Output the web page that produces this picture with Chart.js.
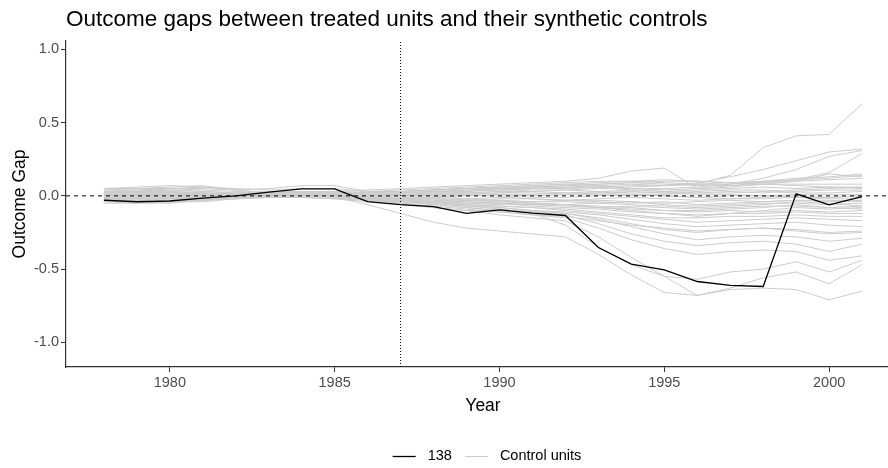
<!DOCTYPE html>
<html>
<head>
<meta charset="utf-8">
<script src="https://cdn.jsdelivr.net/npm/chart.js@4"></script>
<style>
  html, body { margin: 0; padding: 0; background: #fff; overflow: hidden; }
  #wrap { width: 900px; height: 468px; }
</style>
</head>
<body>
<div id="wrap"><canvas id="gaps_chart"></canvas></div>
<script>
const years = [1978, 1979, 1980, 1981, 1982, 1983, 1984, 1985, 1986, 1987, 1988, 1989,
               1990, 1991, 1992, 1993, 1994, 1995, 1996, 1997, 1998, 1999, 2000, 2001];
const treatment_year = 1987;
const x_ticks = [1980, 1985, 1990, 1995, 2000];
const y_ticks = [-1.0, -0.5, 0.0, 0.5, 1.0];

const treated_label = "138";
const control_label = "Control units";

// gap for the treated unit
const treated_gap = [-0.03, -0.04, -0.035, -0.016, 0.0, 0.025, 0.048, 0.048, -0.039,
                     -0.06, -0.073, -0.12, -0.095, -0.118, -0.134, -0.353, -0.466, -0.505,
                     -0.585, -0.612, -0.619, 0.014, -0.061, -0.005];

// placebo gaps, one per control unit
const c01 = [0.02, 0.03, 0.03, 0.02, 0.01, 0.01, 0.02, 0.02, 0.03, 0.03, 0.04, 0.05, 0.05, 0.06, 0.06, 0.07, 0.08, 0.07, 0.08, 0.14, 0.33, 0.41, 0.42, 0.63];
const c02 = [0.01, 0.01, 0.02, 0.02, 0.01, 0.00, 0.00, 0.01, 0.02, 0.02, 0.03, 0.03, 0.04, 0.05, 0.05, 0.06, 0.06, 0.07, 0.09, 0.13, 0.18, 0.24, 0.30, 0.32];
const c03 = [-0.01, 0.00, 0.00, 0.01, 0.01, 0.00, 0.00, 0.00, 0.01, 0.01, 0.02, 0.02, 0.03, 0.04, 0.04, 0.05, 0.05, 0.05, 0.06, 0.08, 0.12, 0.18, 0.27, 0.31];
const c04 = [0.03, 0.03, 0.04, 0.03, 0.02, 0.02, 0.03, 0.03, 0.04, 0.05, 0.06, 0.07, 0.08, 0.09, 0.10, 0.12, 0.17, 0.19, 0.05, 0.07, 0.09, 0.11, 0.16, 0.29];
const c05 = [0.05, 0.05, 0.06, 0.07, 0.04, 0.02, 0.01, 0.00, 0.02, 0.03, 0.04, 0.05, 0.06, 0.06, 0.07, 0.08, 0.09, 0.08, 0.07, 0.08, 0.10, 0.12, 0.13, 0.15];
const c06 = [0.04, 0.05, 0.05, 0.04, 0.03, 0.02, 0.02, 0.01, 0.01, 0.02, 0.03, 0.04, 0.05, 0.05, 0.06, 0.06, 0.07, 0.07, 0.08, 0.09, 0.10, 0.11, 0.12, 0.14];
const c07 = [-0.02, -0.01, 0.00, 0.01, 0.02, 0.03, 0.03, 0.02, 0.01, 0.00, 0.01, 0.03, 0.05, 0.06, 0.07, 0.08, 0.09, 0.10, 0.10, 0.09, 0.09, 0.10, 0.11, 0.12];
const c08 = [0.01, 0.02, 0.02, 0.01, 0.00, 0.00, 0.01, 0.01, 0.00, 0.02, 0.04, 0.05, 0.06, 0.07, 0.08, 0.09, 0.10, 0.09, 0.08, 0.07, 0.08, 0.08, 0.08, 0.08];
const c09 = [0.03, 0.04, 0.04, 0.03, 0.02, 0.01, 0.03, 0.03, 0.01, 0.02, 0.03, 0.04, 0.04, 0.05, 0.05, 0.06, 0.04, 0.03, 0.04, 0.05, 0.06, 0.05, 0.06, 0.06];
const c10 = [0.00, 0.01, 0.01, 0.00, -0.01, 0.00, 0.01, 0.02, 0.01, 0.01, 0.02, 0.02, 0.03, 0.03, 0.04, 0.03, 0.02, 0.02, 0.03, 0.04, 0.04, 0.03, 0.04, 0.04];
const c11 = [-0.03, -0.03, -0.02, -0.02, -0.01, 0.00, 0.00, 0.01, 0.00, 0.00, 0.01, 0.01, 0.02, 0.02, 0.01, 0.01, 0.00, 0.01, 0.02, 0.02, 0.03, 0.02, 0.02, 0.03];
const c12 = [0.02, 0.02, 0.01, 0.01, 0.01, 0.02, 0.03, 0.03, 0.02, 0.01, 0.00, 0.00, 0.01, 0.01, 0.02, 0.02, 0.03, 0.02, 0.01, 0.01, 0.00, 0.01, 0.01, 0.01];
const c13 = [0.01, 0.00, -0.01, -0.01, 0.00, 0.01, 0.02, 0.02, 0.00, -0.01, -0.01, 0.00, 0.00, -0.01, -0.01, 0.00, 0.01, 0.00, -0.01, 0.00, 0.00, -0.01, -0.01, 0.00];
const c14 = [-0.01, -0.02, -0.02, -0.01, 0.00, 0.00, 0.00, -0.01, -0.02, -0.02, -0.02, -0.03, -0.02, -0.02, -0.03, -0.02, -0.01, -0.02, -0.03, -0.02, -0.02, -0.01, -0.02, -0.02];
const c15 = [0.02, 0.03, 0.02, 0.01, 0.00, -0.01, -0.01, 0.00, -0.01, -0.02, -0.03, -0.03, -0.04, -0.04, -0.03, -0.03, -0.04, -0.05, -0.04, -0.03, -0.04, -0.03, -0.03, -0.04];
const c16 = [-0.04, -0.05, -0.05, -0.03, -0.01, 0.00, 0.00, -0.01, -0.03, -0.03, -0.04, -0.04, -0.05, -0.05, -0.06, -0.05, -0.04, -0.06, -0.07, -0.06, -0.05, -0.05, -0.06, -0.05];
const c17 = [0.01, 0.01, 0.00, 0.00, 0.01, 0.01, 0.00, -0.01, -0.02, -0.03, -0.04, -0.05, -0.06, -0.06, -0.07, -0.08, -0.07, -0.08, -0.09, -0.08, -0.07, -0.07, -0.08, -0.07];
const c18 = [-0.02, -0.03, -0.04, -0.03, -0.01, 0.00, 0.01, 0.00, -0.02, -0.03, -0.04, -0.05, -0.05, -0.06, -0.06, -0.08, -0.09, -0.10, -0.10, -0.09, -0.08, -0.06, -0.08, -0.09];
const c19 = [0.03, 0.03, 0.03, 0.02, 0.01, 0.01, 0.02, 0.02, 0.00, -0.01, -0.02, -0.03, -0.04, -0.05, -0.06, -0.07, -0.08, -0.10, -0.11, -0.10, -0.11, -0.10, -0.11, -0.10];
const c20 = [0.00, -0.01, -0.01, 0.00, 0.00, 0.01, 0.02, 0.01, -0.01, -0.02, -0.03, -0.04, -0.05, -0.07, -0.08, -0.09, -0.11, -0.12, -0.13, -0.12, -0.12, -0.11, -0.12, -0.12];
const c21 = [-0.01, -0.02, -0.03, -0.02, -0.01, 0.00, -0.01, -0.02, -0.03, -0.04, -0.05, -0.06, -0.07, -0.08, -0.09, -0.11, -0.13, -0.15, -0.15, -0.14, -0.14, -0.13, -0.14, -0.14];
const c22 = [0.02, 0.02, 0.02, 0.01, 0.00, 0.00, 0.01, 0.00, -0.02, -0.03, -0.05, -0.06, -0.07, -0.08, -0.10, -0.12, -0.14, -0.16, -0.18, -0.17, -0.16, -0.15, -0.16, -0.17];
const c23 = [0.01, 0.01, 0.00, -0.01, -0.01, 0.00, 0.01, 0.01, -0.01, -0.03, -0.05, -0.07, -0.08, -0.10, -0.11, -0.13, -0.16, -0.19, -0.21, -0.20, -0.19, -0.18, -0.20, -0.21];
const c24 = [-0.03, -0.03, -0.02, -0.02, -0.01, 0.00, 0.00, 0.00, -0.02, -0.04, -0.06, -0.08, -0.10, -0.11, -0.12, -0.15, -0.19, -0.23, -0.25, -0.23, -0.22, -0.23, -0.25, -0.24];
const c25 = [0.00, 0.00, 0.01, 0.01, 0.00, 0.00, 0.01, 0.02, 0.00, -0.02, -0.04, -0.06, -0.08, -0.10, -0.12, -0.16, -0.21, -0.26, -0.30, -0.28, -0.27, -0.28, -0.31, -0.29];
const c26 = [0.02, 0.02, 0.02, 0.02, 0.01, 0.01, 0.02, 0.01, -0.01, -0.03, -0.05, -0.07, -0.09, -0.11, -0.13, -0.19, -0.26, -0.31, -0.34, -0.32, -0.31, -0.33, -0.38, -0.33];
const c27 = [-0.02, -0.02, -0.01, -0.01, 0.00, 0.01, 0.01, 0.00, -0.03, -0.05, -0.07, -0.09, -0.11, -0.13, -0.15, -0.22, -0.30, -0.36, -0.40, -0.38, -0.37, -0.38, -0.44, -0.41];
const c28 = [0.00, 0.00, 0.01, 0.01, 0.01, 0.01, 0.02, -0.01, -0.06, -0.12, -0.18, -0.22, -0.24, -0.26, -0.28, -0.40, -0.54, -0.66, -0.68, -0.63, -0.56, -0.52, -0.60, -0.47];
const c29 = [0.01, 0.01, 0.00, 0.00, 0.01, 0.02, 0.03, 0.02, -0.02, -0.04, -0.06, -0.08, -0.10, -0.12, -0.20, -0.35, -0.47, -0.55, -0.57, -0.52, -0.50, -0.45, -0.52, -0.44];
const c30 = [-0.03, -0.04, -0.04, -0.03, -0.02, -0.01, 0.00, 0.00, -0.03, -0.05, -0.08, -0.10, -0.13, -0.15, -0.17, -0.28, -0.42, -0.55, -0.68, -0.64, -0.63, -0.64, -0.71, -0.65];
const c31 = [0.04, 0.04, 0.05, 0.05, 0.04, 0.05, 0.07, 0.07, 0.03, 0.01, 0.00, -0.02, -0.03, -0.05, -0.06, -0.08, -0.10, -0.12, -0.14, -0.12, -0.10, -0.08, -0.09, -0.08];
const c32 = [0.05, 0.06, 0.07, 0.06, 0.05, 0.04, 0.05, 0.05, 0.03, 0.04, 0.05, 0.06, 0.07, 0.08, 0.09, 0.10, 0.10, 0.11, 0.10, 0.09, 0.08, 0.07, 0.06, 0.05];
const c33 = [-0.05, -0.05, -0.04, -0.04, -0.02, -0.01, -0.01, -0.02, -0.04, -0.06, -0.08, -0.10, -0.11, -0.13, -0.14, -0.17, -0.20, -0.22, -0.24, -0.23, -0.22, -0.24, -0.26, -0.25];
const c34 = [0.02, 0.03, 0.05, 0.06, 0.04, 0.02, 0.01, 0.01, 0.02, 0.03, 0.04, 0.05, 0.06, 0.07, 0.08, 0.07, 0.05, 0.04, 0.05, 0.06, 0.08, 0.10, 0.15, 0.13];
const c35 = [0.00, 0.01, 0.02, 0.02, 0.01, 0.00, 0.00, 0.00, 0.01, 0.02, 0.02, 0.01, 0.02, 0.03, 0.02, 0.03, 0.04, 0.03, 0.02, 0.03, 0.02, 0.04, 0.05, 0.06];
const c36 = [-0.01, -0.01, -0.02, -0.02, -0.01, 0.00, 0.00, 0.01, 0.01, 0.00, -0.01, -0.02, -0.01, -0.02, -0.03, -0.04, -0.05, -0.04, -0.06, -0.05, -0.04, -0.03, -0.04, -0.03];
const c37 = [0.03, 0.02, 0.01, 0.01, 0.01, 0.01, 0.02, 0.03, 0.02, 0.01, 0.01, 0.02, 0.01, 0.00, 0.01, 0.02, 0.01, 0.00, -0.01, -0.02, -0.01, 0.00, -0.01, 0.00];
const c38 = [-0.02, -0.02, -0.03, -0.03, -0.02, -0.01, 0.00, 0.00, -0.01, -0.02, -0.02, -0.03, -0.03, -0.04, -0.04, -0.05, -0.06, -0.07, -0.08, -0.07, -0.06, -0.04, -0.05, -0.07];

const control_gaps = [c01, c02, c03, c04, c05, c06, c07, c08, c09, c10, c11, c12, c13,
                      c14, c15, c16, c17, c18, c19, c20, c21, c22, c23, c24, c25, c26,
                      c27, c28, c29, c30, c31, c32, c33, c34, c35, c36, c37, c38];

// axis limits (ggplot-style 5% expansion)
const x_min = 1976.85, x_max = 2002.15;
const y_min = -1.169, y_max = 1.058;

const font_family = "'Liberation Sans', Arial, sans-serif";
Chart.defaults.font.family = font_family;

const to_points = vals => years.map((yr, i) => ({ x: yr, y: vals[i] }));

const datasets = [];
datasets.push({
    label: treated_label,
    data: to_points(treated_gap),
    borderColor: '#000000',
    borderWidth: 1.3,
    pointRadius: 0,
    order: 0
});
datasets.push({
    label: 'zero',
    data: [{ x: x_min, y: 0 }, { x: x_max, y: 0 }],
    borderColor: '#000000',
    borderWidth: 1,
    borderDash: [4, 4],
    pointRadius: 0,
    order: 1
});
datasets.push({
    label: 'treatment',
    data: [{ x: treatment_year, y: y_min }, { x: treatment_year, y: y_max }],
    borderColor: '#000000',
    borderWidth: 1,
    borderDash: [1, 2],
    pointRadius: 0,
    order: 1
});
control_gaps.forEach(vals => {
    datasets.push({
        label: control_label,
        data: to_points(vals),
        borderColor: '#cccccc',
        borderWidth: 1,
        pointRadius: 0,
        order: 2
    });
});

// legend under the panel, centred on the plot area
const bottom_legend = {
    id: 'bottom_legend',
    afterDraw(chart) {
        const { ctx, chartArea } = chart;
        const items = [
            { text: treated_label, color: '#000000', width: 1.3 },
            { text: control_label, color: '#cccccc', width: 1 }
        ];
        const key_w = 23, key_gap = 12, item_gap = 13;
        ctx.save();
        ctx.font = '14.5px ' + font_family;
        let total = 0;
        items.forEach((it, i) => {
            it.tw = ctx.measureText(it.text).width;
            total += key_w + key_gap + it.tw + (i < items.length - 1 ? item_gap : 0);
        });
        const cy = 456;
        let x = (chartArea.left + chartArea.right) / 2 - total / 2 + 4;
        items.forEach(it => {
            ctx.strokeStyle = it.color;
            ctx.lineWidth = it.width;
            ctx.beginPath();
            ctx.moveTo(x, cy + 0.5);
            ctx.lineTo(x + key_w, cy + 0.5);
            ctx.stroke();
            x += key_w + key_gap;
            ctx.fillStyle = '#000000';
            ctx.textBaseline = 'middle';
            ctx.fillText(it.text, x, cy);
            x += it.tw + item_gap;
        });
        ctx.restore();
    }
};

const chart = new Chart(document.getElementById('gaps_chart'), {
    type: 'line',
    data: { datasets: datasets },
    options: {
        responsive: true,
        maintainAspectRatio: false,
        animation: false,
        layout: { padding: { left: 0, right: 0, top: 0, bottom: 48 } },
        plugins: {
            legend: { display: false },
            tooltip: { enabled: false },
            title: {
                display: true,
                text: 'Outcome gaps between treated units and their synthetic controls',
                align: 'start',
                fullSize: false,
                color: '#000000',
                font: { size: 22.5, weight: 'normal' },
                padding: { top: 6.5, bottom: 7.5 }
            }
        },
        scales: {
            x: {
                type: 'linear',
                min: x_min,
                max: x_max,
                border: { color: '#333333', width: 1.2 },
                grid: { drawOnChartArea: false, tickLength: 5, color: '#333333' },
                ticks: { color: '#4d4d4d', font: { size: 14.5 }, padding: 2.5, callback: v => String(v) },
                title: { display: true, text: 'Year', color: '#000000', font: { size: 17.5 }, padding: { top: 2, bottom: 3 } },
                afterBuildTicks: s => { s.ticks = x_ticks.map(v => ({ value: v })); },
                afterFit: s => { s.height = 53; }
            },
            y: {
                type: 'linear',
                min: y_min,
                max: y_max,
                border: { color: '#333333', width: 1.2 },
                grid: { drawOnChartArea: false, tickLength: 5, color: '#333333' },
                ticks: { color: '#4d4d4d', font: { size: 14.5 }, padding: 2, callback: v => v.toFixed(1) },
                title: { display: true, text: 'Outcome Gap', color: '#000000', font: { size: 17.5 }, padding: { top: 10, bottom: 0 } },
                afterBuildTicks: s => { s.ticks = y_ticks.map(v => ({ value: v })); },
                afterFit: s => { s.width = 66; }
            }
        }
    },
    plugins: [bottom_legend]
});
</script>
</body>
</html>
